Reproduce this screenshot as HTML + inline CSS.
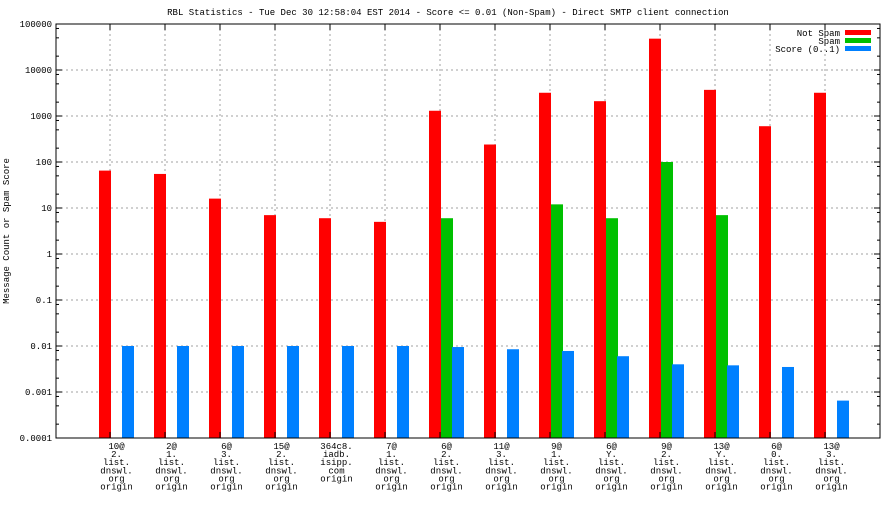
<!DOCTYPE html>
<html><head><meta charset="utf-8"><style>
html,body{margin:0;padding:0;background:#fff;}
svg text{font-family:"Liberation Mono",monospace;font-size:9px;fill:#000;}
</style></head><body>
<svg id="chart" width="896" height="504" xmlns="http://www.w3.org/2000/svg">
<text x="448" y="15" text-anchor="middle">RBL Statistics - Tue Dec 30 12:58:04 EST 2014 - Score &lt;= 0.01 (Non-Spam) - Direct SMTP client connection</text>
<text transform="translate(9,231) rotate(-90)" text-anchor="middle">Message Count or Spam Score</text>
<g id="grid"></g><g id="bars"></g><g id="axes"></g>
<g>
<text x="840" y="36" text-anchor="end">Not Spam</text>
<rect x="845" y="30" width="26" height="5" fill="#ff0000"/>
<text x="840" y="44" text-anchor="end">Spam</text>
<rect x="845" y="38" width="26" height="5" fill="#00c000"/>
<text x="840" y="52" text-anchor="end">Score (0..1)</text>
<rect x="845" y="46" width="26" height="5" fill="#0080ff"/>
</g>
</svg>
<script>
const categories=[["10@","2.","list.","dnswl.","org","origin"],["2@","1.","list.","dnswl.","org","origin"],["6@","3.","list.","dnswl.","org","origin"],["15@","2.","list.","dnswl.","org","origin"],["364c8.","iadb.","isipp.","com","origin"],["7@","1.","list.","dnswl.","org","origin"],["6@","2.","list.","dnswl.","org","origin"],["11@","3.","list.","dnswl.","org","origin"],["9@","1.","list.","dnswl.","org","origin"],["6@","Y.","list.","dnswl.","org","origin"],["9@","2.","list.","dnswl.","org","origin"],["13@","Y.","list.","dnswl.","org","origin"],["6@","0.","list.","dnswl.","org","origin"],["13@","3.","list.","dnswl.","org","origin"]];
const notSpam=[65,55,16,7,6,5,1300,240,3200,2100,48000,3700,600,3200];
const spam=[0,0,0,0,0,0,6,0,12,6,100,7,0,0];
const score=[0.01,0.01,0.01,0.01,0.01,0.01,0.0095,0.0085,0.0078,0.006,0.004,0.0038,0.0035,0.00065];
const yTicks=["0.0001","0.001","0.01","0.1","1","10","100","1000","10000","100000"];
const NS="http://www.w3.org/2000/svg";
const L=56,R=880,T=24,B=438,minE=-4,maxE=5;
function y(v){return T+(maxE-Math.log10(v))*(B-T)/(maxE-minE);}
function xc(i){return 116.5+i*55;}
function mk(tag,attrs,parent){const e=document.createElementNS(NS,tag);for(const k in attrs)e.setAttribute(k,attrs[k]);document.getElementById(parent).appendChild(e);return e;}
yTicks.forEach((t,i)=>{const v=parseFloat(t),yy=y(v);
 if(i>0&&i<yTicks.length-1){const g=mk('line',{x1:L,x2:R,y1:yy,y2:yy,stroke:'#a0a0a0','stroke-dasharray':'2,3'},'grid');}
 mk('line',{x1:L,x2:L+6,y1:yy,y2:yy,stroke:'#000'},'axes');mk('line',{x1:R-6,x2:R,y1:yy,y2:yy,stroke:'#000'},'axes');
 [2,5,8].forEach(m=>{if(i<yTicks.length-1){const ym=y(v*m);mk('line',{x1:L,x2:L+3,y1:ym,y2:ym,stroke:'#000'},'axes');mk('line',{x1:R-3,x2:R,y1:ym,y2:ym,stroke:'#000'},'axes');}});
 const tx=mk('text',{x:L-4,y:yy+3,'text-anchor':'end'},'axes');tx.textContent=t;
 
});
categories.forEach((c,i)=>{const gx=xc(i)-6.5;
 const g=mk('line',{x1:gx,x2:gx,y1:T,y2:B,stroke:'#a0a0a0','stroke-dasharray':'2,3'},'grid');
 
 mk('line',{x1:gx,x2:gx,y1:T,y2:T+6,stroke:'#000'},'axes');mk('line',{x1:gx,x2:gx,y1:B-6,y2:B,stroke:'#000'},'axes');
 c.forEach((ln,j)=>{const t=mk('text',{x:xc(i),y:B+11+j*8.1,'text-anchor':'middle'},'axes');t.textContent=ln;
  });
 const series=[[notSpam[i],'#ff0000',-17.5,'bar-not-spam'],[spam[i],'#00c000',-5.5,'bar-spam'],[score[i],'#0080ff',5.5,'bar-score']];
 series.forEach(s=>{if(s[0]>0){const yt=y(s[0]);const r=mk('rect',{x:xc(i)+s[2],y:yt,width:12,height:B-yt,fill:s[1]},'bars');
  }});
});
const f=mk('rect',{x:L,y:T,width:R-L,height:B-T,fill:'none',stroke:'#000','stroke-width':1},'axes');

</script>
</body></html>
